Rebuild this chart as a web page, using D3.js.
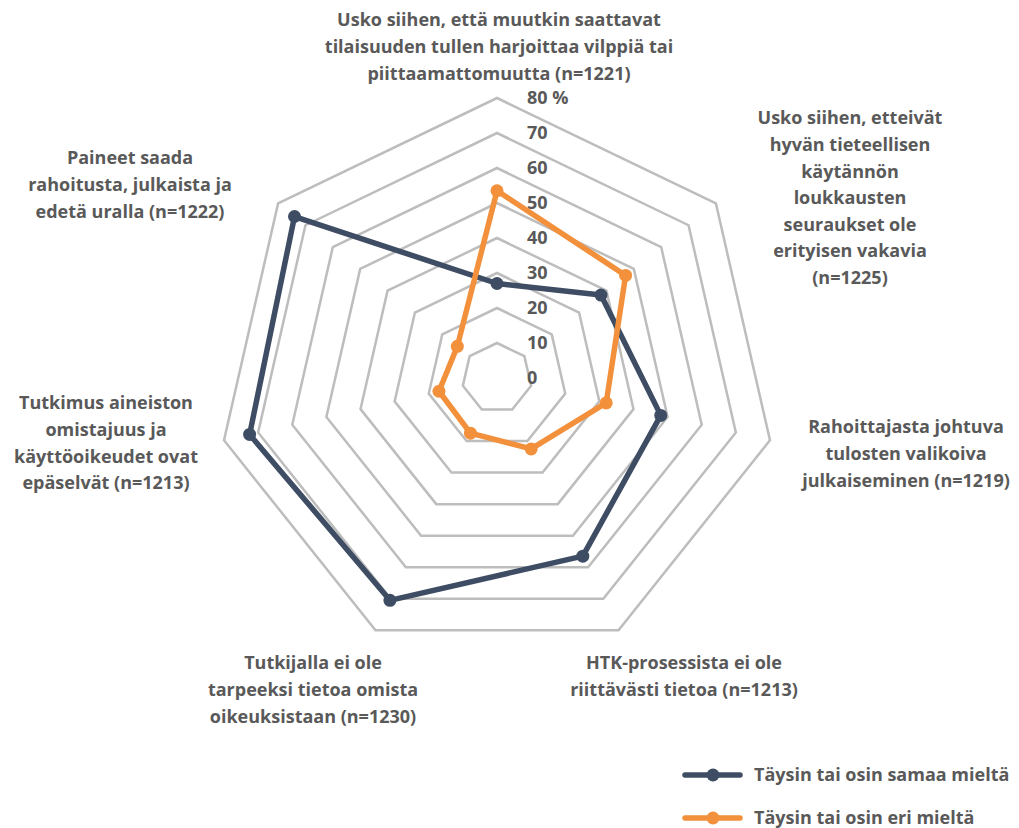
<!DOCTYPE html>
<html>
<head>
<meta charset="utf-8">
<script src="https://cdn.jsdelivr.net/npm/d3@7"></script>
<style>
  body { margin: 0; background: #fff; }
  text { font-family: "Open Sans", sans-serif; font-weight: 700; fill: #595959; }
</style>
</head>
<body>
<svg id="chart" width="1019" height="828"></svg>
<script>
// categories (clockwise from top)
var categories = [
  ["Usko siihen, että muutkin saattavat", "tilaisuuden tullen harjoittaa vilppiä tai", "piittaamattomuutta (n=1221)"],
  ["Usko siihen, etteivät", "hyvän tieteellisen", "käytännön", "loukkausten", "seuraukset ole", "erityisen vakavia", "(n=1225)"],
  ["Rahoittajasta johtuva", "tulosten valikoiva", "julkaiseminen (n=1219)"],
  ["HTK-prosessista ei ole", "riittävästi tietoa (n=1213)"],
  ["Tutkijalla ei ole", "tarpeeksi tietoa omista", "oikeuksistaan (n=1230)"],
  ["Tutkimus aineiston", "omistajuus ja", "käyttöoikeudet ovat", "epäselvät (n=1213)"],
  ["Paineet saada", "rahoitusta, julkaista ja", "edetä uralla (n=1222)"]
];

var seriesNames = ["Täysin tai osin samaa mieltä", "Täysin tai osin eri mieltä"];
var agreeValues = [27, 38, 48, 56.5, 70.5, 72.5, 74];
var disagreeValues = [53.5, 47, 32, 22.5, 17.5, 17, 14.5];
var tickValues = [0, 10, 20, 30, 40, 50, 60, 70, 80];
var tickLabels = ["0", "10", "20", "30", "40", "50", "60", "70", "80 %"];

var colors = ["#3e4d63", "#f2903b"];

var svg = d3.select("#chart");
var cx = 497, cy = 378;

var r = d3.scaleLinear().domain([0, 80]).range([0, 280]);
var angle = d3.scaleLinear().domain([0, categories.length]).range([0, 2 * Math.PI]);

var g = svg.append("g").attr("transform", "translate(" + cx + "," + cy + ")");

// grid rings
var ringLine = d3.lineRadial()
  .angle(function(d, i) { return angle(i); })
  .radius(function(d) { return r(d); })
  .curve(d3.curveLinearClosed);

g.selectAll(".ring")
  .data(tickValues.filter(function(t) { return t > 0; }))
  .enter().append("path")
  .attr("class", "ring")
  .attr("d", function(t) { return ringLine(categories.map(function() { return t; })); })
  .attr("fill", "none")
  .attr("stroke", "#bdbdbd")
  .attr("stroke-width", 2.5);

// tick labels
g.selectAll(".tick")
  .data(tickValues)
  .enter().append("text")
  .attr("class", "tick")
  .attr("x", 30)
  .attr("y", function(t) { return -r(t); })
  .attr("dy", "0.35em")
  .style("font-size", "18px")
  .text(function(t, i) { return tickLabels[i]; });

// series
var allSeries = [agreeValues, disagreeValues];

function pt(v, i) {
  var a = angle(i);
  return [Math.sin(a) * r(v), -Math.cos(a) * r(v)];
}

allSeries.forEach(function(vals, s) {
  g.append("path")
    .attr("d", ringLine(vals))
    .attr("fill", "none")
    .attr("stroke", colors[s])
    .attr("stroke-width", 5.5)
    .attr("stroke-linejoin", "round");

  g.selectAll(".dot" + s)
    .data(vals)
    .enter().append("circle")
    .attr("cx", function(d, i) { return pt(d, i)[0]; })
    .attr("cy", function(d, i) { return pt(d, i)[1]; })
    .attr("r", 6.5)
    .attr("fill", colors[s]);
});

// category labels: center x, first line y
var labelPos = [[499, 20], [850, 118], [906, 427], [684, 663], [313, 663], [106, 403], [130, 158]];

categories.forEach(function(lines, i) {
  var t = svg.append("text")
    .attr("text-anchor", "middle")
    .style("font-size", "18px");
  lines.forEach(function(line, j) {
    t.append("tspan")
      .attr("x", labelPos[i][0])
      .attr("y", labelPos[i][1] + j * 26.6)
      .attr("dy", "0.35em")
      .text(line);
  });
});

// legend
var legend = svg.selectAll(".legend")
  .data(seriesNames)
  .enter().append("g")
  .attr("class", "legend")
  .attr("transform", function(d, i) { return "translate(685," + (775 + i * 43) + ")"; });

legend.append("line")
  .attr("x1", 0).attr("x2", 55)
  .attr("stroke", function(d, i) { return colors[i]; })
  .attr("stroke-width", 5.5)
  .attr("stroke-linecap", "round");

legend.append("circle")
  .attr("cx", 28)
  .attr("r", 6.5)
  .attr("fill", function(d, i) { return colors[i]; });

legend.append("text")
  .attr("x", 69)
  .attr("dy", "0.35em")
  .style("font-size", "18px")
  .text(function(d) { return d; });
</script>
</body>
</html>
